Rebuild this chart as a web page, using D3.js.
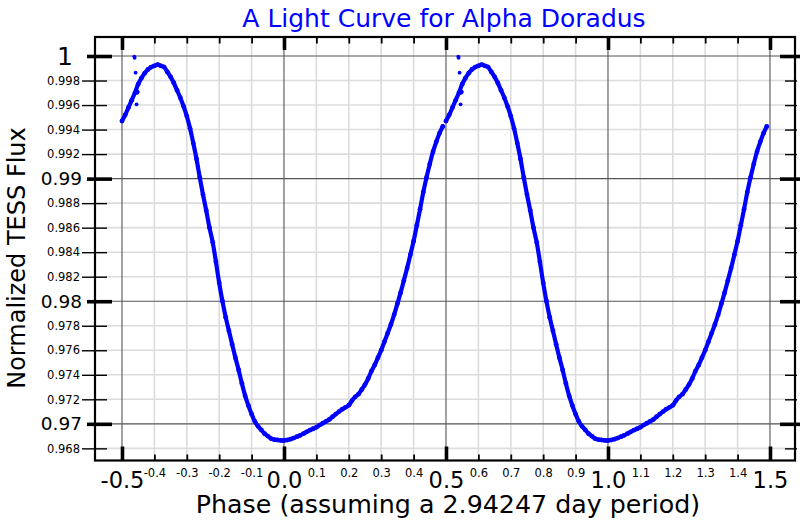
<!DOCTYPE html>
<html><head><meta charset="utf-8">
<script src="https://cdn.jsdelivr.net/npm/d3@7"></script>
<style>body{margin:0;background:#fff}svg{display:block}text{font-family:"DejaVu Sans",sans-serif}</style>
</head><body><svg id="chart" width="800" height="520"></svg>
<script>
// ---- Data ----
const phase = [-0.50,-0.49,-0.48,-0.47,-0.46,-0.45,-0.44,-0.43,-0.42,-0.41,-0.40,-0.39,-0.38,-0.37,-0.36,-0.35,-0.34,-0.33,-0.32,-0.31,
  -0.30,-0.29,-0.28,-0.27,-0.26,-0.25,-0.24,-0.23,-0.22,-0.21,-0.20,-0.19,-0.18,-0.17,-0.16,-0.15,-0.14,-0.13,-0.12,-0.11,
  -0.10,-0.09,-0.08,-0.07,-0.06,-0.05,-0.04,-0.03,-0.02,-0.01,0.00,0.01,0.02,0.03,0.04,0.05,0.06,0.07,0.08,0.09,
  0.10,0.11,0.12,0.13,0.14,0.15,0.16,0.17,0.18,0.19,0.20,0.21,0.22,0.23,0.24,0.25,0.26,0.27,0.28,0.29,
  0.30,0.31,0.32,0.33,0.34,0.35,0.36,0.37,0.38,0.39,0.40,0.41,0.42,0.43,0.44,0.45,0.46,0.47,0.48,0.49];
const flux = [0.9947,0.9952,0.9958,0.9964,0.9970,0.9977,0.9982,0.9986,0.9989,0.9991,0.9992,0.9993,0.9992,0.9991,0.9987,0.9983,0.9978,0.9972,0.9966,0.9959,
  0.9951,0.9941,0.9929,0.9916,0.9901,0.9887,0.9874,0.9860,0.9848,0.9832,0.9815,0.9800,0.9787,0.9776,0.9765,0.9754,0.9744,0.9733,0.9723,0.9715,
  0.9708,0.9702,0.9698,0.9695,0.9692,0.9690,0.9688,0.96872,0.96868,0.96865,0.96864,0.96868,0.96875,0.96884,0.96895,0.96906,0.96920,0.96935,0.96948,0.96960,
  0.96972,0.96990,0.97005,0.97020,0.97036,0.97058,0.97080,0.97100,0.97120,0.97135,0.97152,0.97190,0.97220,0.97242,0.97280,0.97320,0.97370,0.97430,0.97480,0.97540,
  0.97600,0.97670,0.97740,0.97810,0.97890,0.97980,0.98070,0.98170,0.98270,0.98380,0.98490,0.98620,0.98750,0.98890,0.99010,0.99120,0.99220,0.99300,0.99370,0.99425];
const outlierPhase = [-0.462,-0.461,-0.458,-0.455,-0.453,-0.451];
const outlierFlux  = [0.99995,0.99985,0.99864,0.99606,0.99700,0.99708];
const cycleOffsets = [0, 1];

const xMajorTicks  = [-0.5, 0.0, 0.5, 1.0, 1.5];
const xMajorLabels = ["-0.5", "0.0", "0.5", "1.0", "1.5"];
const xMinorTicks  = [-0.4,-0.3,-0.2,-0.1,0.1,0.2,0.3,0.4,0.6,0.7,0.8,0.9,1.1,1.2,1.3,1.4];
const xMinorLabels = ["-0.4","-0.3","-0.2","-0.1","0.1","0.2","0.3","0.4","0.6","0.7","0.8","0.9","1.1","1.2","1.3","1.4"];
const yMajorTicks  = [1.00, 0.99, 0.98, 0.97];
const yMajorLabels = ["1", "0.99", "0.98", "0.97"];
const yMinorTicks  = [0.998,0.996,0.994,0.992,0.988,0.986,0.984,0.982,0.978,0.976,0.974,0.972,0.968];
const yMinorLabels = ["0.998","0.996","0.994","0.992","0.988","0.986","0.984","0.982","0.978","0.976","0.974","0.972","0.968"];

const titleText  = "A Light Curve for Alpha Doradus";
const xTitleText = "Phase (assuming a 2.94247 day period)";
const yTitleText = "Normalized TESS Flux";

// ---- Layout ----
const L = 95, R = 795, T = 37, B = 460.5;
const svg = d3.select("#chart");
const x = d3.scaleLinear().domain([-0.5833, 1.5772]).range([L, R]);
const y = d3.scaleLinear().domain([0.96701, 1.00155]).range([B, T]);

// gridlines
const g = svg.append("g");
g.selectAll(".gxm").data(xMinorTicks).join("line").attr("class","gxm")
  .attr("x1", d => x(d)).attr("x2", d => x(d)).attr("y1", T).attr("y2", B)
  .attr("stroke", "#dcdcdc").attr("stroke-width", 1.6);
g.selectAll(".gym").data(yMinorTicks).join("line").attr("class","gym")
  .attr("y1", d => y(d)).attr("y2", d => y(d)).attr("x1", L).attr("x2", R)
  .attr("stroke", "#dcdcdc").attr("stroke-width", 1.6);
g.selectAll(".gxM").data(xMajorTicks).join("line").attr("class","gxM")
  .attr("x1", d => x(d)).attr("x2", d => x(d)).attr("y1", T).attr("y2", B)
  .attr("stroke", "#555").attr("stroke-width", 1.1);
g.selectAll(".gyM").data(yMajorTicks).join("line").attr("class","gyM")
  .attr("y1", d => y(d)).attr("y2", d => y(d)).attr("x1", L).attr("x2", R)
  .attr("stroke", "#555").attr("stroke-width", 1.1);

// data
const pts = phase.map((p, i) => ({p, f: flux[i]}));
const outs = outlierPhase.map((p, i) => ({p, f: outlierFlux[i]}));
const line = d3.line().x(d => x(d.p)).y(d => y(d.f)).curve(d3.curveCatmullRom);
const dataG = svg.append("g");
cycleOffsets.forEach(off => {
  const shifted = pts.map(d => ({p: d.p + off, f: d.f}));
  dataG.append("path").datum(shifted).attr("d", line)
    .attr("fill", "none").attr("stroke", "#0000ff").attr("stroke-width", 4.2)
    .attr("stroke-linejoin", "round").attr("stroke-linecap", "round");
  dataG.selectAll(null).data(shifted).join("circle")
    .attr("cx", d => x(d.p)).attr("cy", d => y(d.f)).attr("r", 2.4).attr("fill", "#0000ff");
  dataG.selectAll(null).data(outs.map(d => ({p: d.p + off, f: d.f}))).join("circle")
    .attr("cx", d => x(d.p)).attr("cy", d => y(d.f)).attr("r", 1.9).attr("fill", "#0000ff");
});

// frame
svg.append("rect").attr("x", L).attr("y", T).attr("width", R - L).attr("height", B - T)
  .attr("fill", "none").attr("stroke", "#000").attr("stroke-width", 2.2);

function styleAxis(sel, w) {
  sel.select(".domain").remove();
  sel.selectAll(".tick line").attr("stroke", "#000").attr("stroke-width", w);
}
// left axis
const leftMinor = svg.append("g").attr("transform", `translate(${L},0)`)
  .call(d3.axisLeft(y).tickValues(yMinorTicks).tickFormat((d, i) => yMinorLabels[i]).tickSize(13).tickPadding(2));
styleAxis(leftMinor, 1.4);
leftMinor.selectAll(".tick line").attr("x1", 12);
leftMinor.selectAll(".tick text").attr("font-size", 11.5).attr("fill", "#000").attr("font-family", "DejaVu Sans");
const leftMajor = svg.append("g").attr("transform", `translate(${L},0)`)
  .call(d3.axisLeft(y).tickValues(yMajorTicks).tickFormat((d, i) => yMajorLabels[i]).tickSize(8).tickPadding(6));
styleAxis(leftMajor, 3.6);
leftMajor.selectAll(".tick line").attr("x1", 17);
leftMajor.selectAll(".tick text").attr("font-size", (d, i) => yMajorLabels[i] === "1" ? 25 : 18.5)
  .attr("x", (d, i) => yMajorLabels[i] === "1" ? -22 : -13)
  .attr("fill", "#000").attr("font-family", "DejaVu Sans");
// right axis
const rightMinor = svg.append("g").attr("transform", `translate(${R},0)`)
  .call(d3.axisRight(y).tickValues(yMinorTicks).tickFormat("").tickSize(2));
styleAxis(rightMinor, 1.4);
rightMinor.selectAll(".tick line").attr("x1", -10);
const rightMajor = svg.append("g").attr("transform", `translate(${R},0)`)
  .call(d3.axisRight(y).tickValues(yMajorTicks).tickFormat("").tickSize(5));
styleAxis(rightMajor, 3.6);
rightMajor.selectAll(".tick line").attr("x1", -15);
// top axis
const topMinor = svg.append("g").attr("transform", `translate(0,${T})`)
  .call(d3.axisBottom(x).tickValues(xMinorTicks).tickFormat("").tickSize(6.5));
styleAxis(topMinor, 1.8);
const topMajor = svg.append("g").attr("transform", `translate(0,${T})`)
  .call(d3.axisBottom(x).tickValues(xMajorTicks).tickFormat("").tickSize(13));
styleAxis(topMajor, 3.6);
// bottom axis
const botMinor = svg.append("g").attr("transform", `translate(0,${B})`)
  .call(d3.axisTop(x).tickValues(xMinorTicks).tickFormat((d, i) => xMinorLabels[i]).tickSize(6));
styleAxis(botMinor, 1.8);
botMinor.selectAll(".tick text").attr("y", 16.5).attr("dy", 0).attr("font-size", 11.5)
  .attr("fill", "#000").attr("font-family", "DejaVu Sans");
const botMajor = svg.append("g").attr("transform", `translate(0,${B})`)
  .call(d3.axisTop(x).tickValues(xMajorTicks).tickFormat((d, i) => xMajorLabels[i]).tickSize(14));
styleAxis(botMajor, 3.6);
botMajor.selectAll(".tick text").attr("y", 27).attr("dy", 0).attr("font-size", 22.5)
  .attr("fill", "#000").attr("font-family", "DejaVu Sans");

// titles
svg.append("text").attr("x", 444).attr("y", 27).attr("text-anchor", "middle")
  .attr("font-size", 25).attr("fill", "#0000ff").text(titleText);
svg.append("text").attr("x", 448).attr("y", 513).attr("text-anchor", "middle")
  .attr("font-size", 25.3).attr("fill", "#000").text(xTitleText);
svg.append("text").attr("transform", "translate(25,258) rotate(-90)").attr("text-anchor", "middle")
  .attr("font-size", 24).attr("fill", "#000").text(yTitleText);
</script></body></html>
